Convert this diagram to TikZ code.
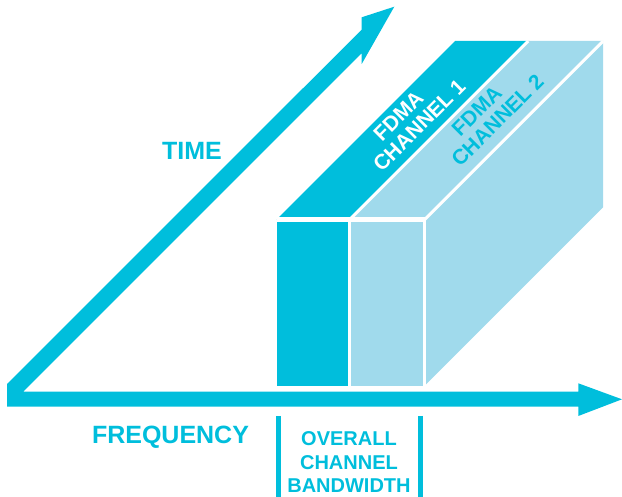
\documentclass[tikz,border=0pt]{standalone}
\usepackage{fontspec}
\setmainfont{Liberation Sans}
\definecolor{cyanD}{RGB}{0,190,220}
\definecolor{cyanL}{RGB}{160,218,236}
\begin{document}
\begin{tikzpicture}[x=1pt,y=-1pt,
  axislbl/.style={text=cyanD, font=\bfseries\fontsize{25}{30}\selectfont, inner sep=0pt},
  chanlbl/.style={font=\bfseries\fontsize{21}{21.5}\selectfont, inner sep=0pt, align=center, rotate=45},
  bwlbl/.style={text=cyanD, font=\bfseries\fontsize{20}{23.3}\selectfont, inner sep=0pt, align=center},
  edge/.style={white, line width=3pt},
  bracket/.style={cyanD, line width=4.7pt}]
\useasboundingbox (0,0) rectangle (622,497);

% axes (time + frequency arrows as one shape)
\fill[cyanD] (7,384) -- (361.7,29.6) -- (361.7,17.3) -- (394.3,6.7) -- (361.7,64)
  -- (361.7,53.3) -- (23.3,391.7) -- (578.3,391.7) -- (578.3,383.3) -- (622,399.3)
  -- (578.3,416) -- (578.3,406.7) -- (7,406.7) -- cycle;

% box corners
\coordinate (A)   at (276.7,385.7);
\coordinate (F1)  at (276.7,219.5);
\coordinate (D1)  at (349.7,219.5);
\coordinate (D0)  at (349.7,385.7);
\coordinate (R1)  at (424.7,219.5);
\coordinate (R0)  at (424.7,385.7);
\coordinate (B1)  at (455.2,41);
\coordinate (BD)  at (528.2,41);
\coordinate (BR)  at (603.2,41);
\coordinate (BR0) at (603.2,207.2);

\fill[cyanD] (F1) -- (D1) -- (D0) -- (A) -- cycle;
\fill[cyanL] (D1) -- (R1) -- (R0) -- (D0) -- cycle;
\fill[cyanD] (F1) -- (D1) -- (BD) -- (B1) -- cycle;
\fill[cyanL] (D1) -- (R1) -- (BR) -- (BD) -- cycle;
\fill[cyanL] (R1) -- (BR) -- (BR0) -- (R0) -- cycle;

\draw[edge, line width=4.3pt] (F1) -- (R1);
\draw[edge] (D1) -- (D0);
\draw[edge] (R1) -- (R0);
\draw[edge] (D1) -- (BD);
\draw[edge] (R1) -- (BR);

% labels
\node[axislbl, anchor=base] (time) at (192,160) {TIME};
\node[axislbl, anchor=base] (freq) at (170.5,443.3) {FREQUENCY};
\node[chanlbl, text=white] (ch1) at (411.75,117.75) {\hspace*{-16pt}FDMA\\CHANNEL 1};
\node[chanlbl, text=cyanD] (ch2) at (490,112.75) {\hspace*{-16pt}FDMA\\CHANNEL 2};
\node[bwlbl] (bw) at (349,462.2) {OVERALL\\CHANNEL\\BANDWIDTH};

% bandwidth bracket
\coordinate (bl0) at (278.4,416);
\coordinate (bl1) at (278.4,497);
\coordinate (br0) at (420.8,416);
\coordinate (br1) at (420.8,497);
\draw[bracket] (bl0) -- (bl1);
\draw[bracket] (br0) -- (br1);
\end{tikzpicture}
\end{document}
